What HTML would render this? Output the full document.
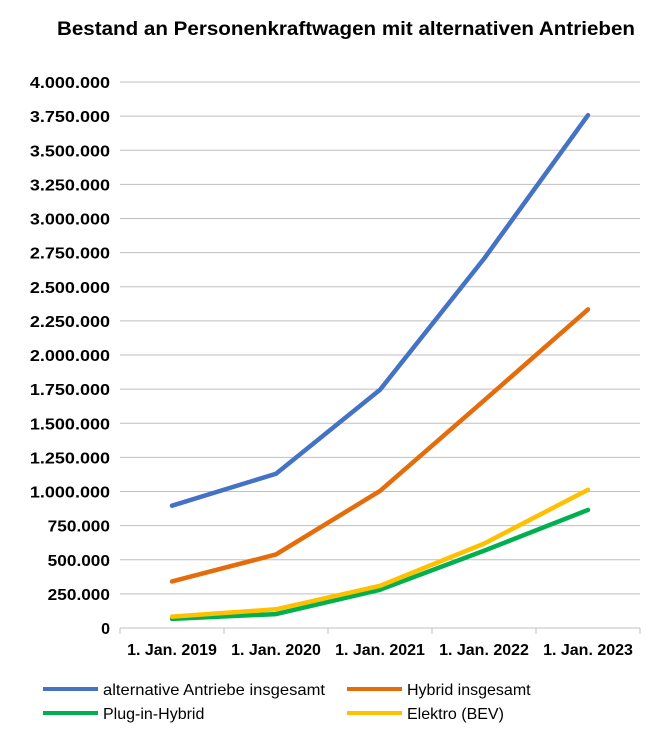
<!DOCTYPE html>
<html><head><meta charset="utf-8"><style>
body{margin:0;background:#fff;font-family:"Liberation Sans",Arial,sans-serif;}
</style></head><body>
<svg width="650" height="732" xmlns="http://www.w3.org/2000/svg">
<text x="57" y="35" textLength="578" lengthAdjust="spacingAndGlyphs" font-size="19" font-weight="bold" font-family="Liberation Sans, Arial, sans-serif">Bestand an Personenkraftwagen mit alternativen Antrieben</text>
<g id="grid"></g>
<g id="yticks"></g>
<g id="xaxis"></g>
<g id="series"></g>
<g font-size="16" font-family="Liberation Sans, Arial, sans-serif">
<g><line x1="43" y1="689" x2="98" y2="689" stroke="#4472C4" stroke-width="4"/><text x="103" y="695" textLength="222" lengthAdjust="spacingAndGlyphs">alternative Antriebe insgesamt</text></g>
<g><line x1="347" y1="689" x2="402" y2="689" stroke="#E46C0A" stroke-width="4"/><text x="407" y="695">Hybrid insgesamt</text></g>
<g><line x1="43" y1="713" x2="98" y2="713" stroke="#00B050" stroke-width="4"/><text x="103" y="719">Plug-in-Hybrid</text></g>
<g><line x1="347" y1="713" x2="402" y2="713" stroke="#FFC000" stroke-width="4"/><text x="407" y="719">Elektro (BEV)</text></g>
</g>
</svg>
<script>
const categories=["1. Jan. 2019","1. Jan. 2020","1. Jan. 2021","1. Jan. 2022","1. Jan. 2023"];
const alternative=[896000,1130000,1745000,2705000,3757000];
const hybrid=[341000,539000,1004000,1666000,2334000];
const plugin=[67000,102000,280000,566000,865000];
const bev=[83000,137000,309000,618000,1013000];
const yTicks=[0,250000,500000,750000,1000000,1250000,1500000,1750000,2000000,2250000,2500000,2750000,3000000,3250000,3500000,3750000,4000000];
const NS="http://www.w3.org/2000/svg";
const X0=120,X1=640,Y0=628,Y1=82,YMAX=4000000;
const y=v=>Y0-(v/YMAX)*(Y0-Y1);
const bw=(X1-X0)/categories.length;
const x=i=>X0+bw*(i+0.5);
function mk(t,a,p){const e=document.createElementNS(NS,t);for(const k in a)e.setAttribute(k,a[k]);p.appendChild(e);return e;}
const fmt=v=>v.toString().replace(/\B(?=(\d{3})+(?!\d))/g,".");
const grid=document.getElementById("grid"),yt=document.getElementById("yticks"),xa=document.getElementById("xaxis"),se=document.getElementById("series");
yTicks.forEach(v=>{
 if(v>0){const l=mk("line",{x1:X0,x2:X1,y1:y(v),y2:y(v),stroke:"#bfbfbf","stroke-width":1},grid);
 
 }
 const s=fmt(v);
 const t=mk("text",{x:X0-10,y:y(v)+6,"text-anchor":"end","font-size":16,"font-weight":"bold"},yt);
 if(s.length>1){t.setAttribute("textLength",s.length*8.9);t.setAttribute("lengthAdjust","spacingAndGlyphs");}
 t.textContent=s;
 
 
});
mk("line",{x1:X0,x2:X1,y1:Y0,y2:Y0,stroke:"#bfbfbf","stroke-width":1},xa);
for(let i=0;i<=categories.length;i++){mk("line",{x1:X0+bw*i,x2:X0+bw*i,y1:Y0,y2:Y0+6,stroke:"#bfbfbf"},xa);}
categories.forEach((c,i)=>{
 const t=mk("text",{x:x(i),y:Y0+27,"text-anchor":"middle","font-size":16,"font-weight":"bold"},xa);
 t.textContent=c;
 
 
});
[[alternative,"#4472C4","line-alternative"],[hybrid,"#E46C0A","line-hybrid"],[plugin,"#00B050","line-plugin-hybrid"],[bev,"#FFC000","line-bev"]].forEach(([d,col,n])=>{
 const p=mk("polyline",{points:d.map((v,i)=>x(i)+","+y(v)).join(" "),fill:"none",stroke:col,"stroke-width":4.5,"stroke-linejoin":"round","stroke-linecap":"round"},se);
 
 
});
</script>
</body></html>
